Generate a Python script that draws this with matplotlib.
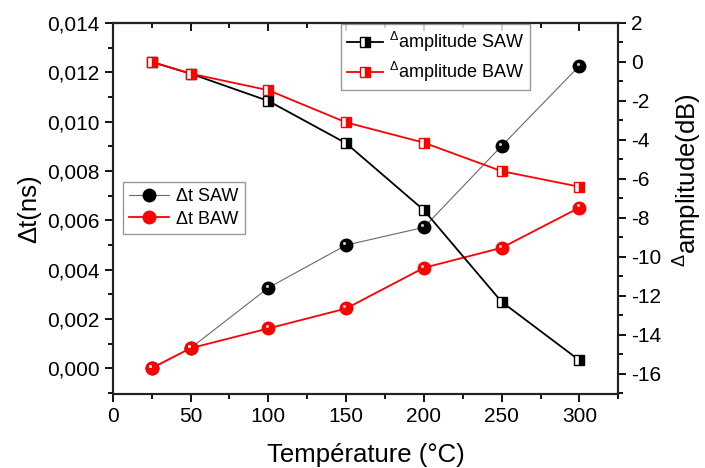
import matplotlib.pyplot as plt
import matplotlib.transforms as mtransforms
from matplotlib.ticker import MultipleLocator, FuncFormatter
from matplotlib.lines import Line2D

plt.rcParams['font.family'] = ['Liberation Sans', 'DejaVu Sans']
plt.rcParams['mathtext.fontset'] = 'custom'
plt.rcParams['mathtext.rm'] = 'Liberation Sans'

temperature = [25, 50, 100, 150, 200, 250, 300]
dt_saw = [0.0, 0.00081, 0.00326, 0.00499, 0.00571, 0.00901, 0.01226]
dt_baw = [0.0, 0.00081, 0.00161, 0.00242, 0.00407, 0.00488, 0.00651]
amp_saw = [0.0, -0.6, -2.0, -4.17, -7.6, -12.3, -15.3]
amp_baw = [0.0, -0.6, -1.45, -3.1, -4.14, -5.6, -6.4]


def sphere(ax, x, y, color, lw, lcolor):
    ax.plot(x, y, '-', color=lcolor, lw=lw, zorder=2)
    ax.plot(x, y, 'o', color=color, ms=9, mec=color, zorder=3)
    hl = mtransforms.offset_copy(ax.transData, fig=ax.figure, x=-1.3, y=1.6, units='points')
    ax.plot(x, y, 'o', color='white', ms=2.2, mec='none', alpha=0.8, transform=hl, zorder=4)


fig = plt.figure(figsize=(7.05, 4.68), dpi=100)
ax = fig.add_axes([0.160, 0.158, 0.717, 0.793])
ax2 = ax.twinx()

sphere(ax, temperature, dt_saw, 'black', 0.8, 'dimgray')
sphere(ax, temperature, dt_baw, 'red', 1.3, 'red')

ax2.plot(temperature, amp_saw, '-s', color='black', lw=1.3, ms=7, mec='black',
         mfc='black', mfcalt='white', fillstyle='right', mew=1)
ax2.plot(temperature, amp_baw, '-s', color='red', lw=1.3, ms=7, mec='red',
         mfc='red', mfcalt='white', fillstyle='right', mew=1)

ax.set_xlim(0, 325)
ax.set_ylim(-0.00105, 0.014)
ax2.set_ylim(-17.03, 2)

ax.xaxis.set_major_locator(MultipleLocator(50))
ax.xaxis.set_minor_locator(MultipleLocator(25))
ax.yaxis.set_major_locator(MultipleLocator(0.002))
ax.yaxis.set_minor_locator(MultipleLocator(0.001))
ax2.yaxis.set_major_locator(MultipleLocator(2))
ax2.yaxis.set_minor_locator(MultipleLocator(1))

ax.yaxis.set_major_formatter(FuncFormatter(lambda v, p: f'{abs(v):.3f}'.replace('.', ',') if abs(v) < 1e-9 else f'{v:.3f}'.replace('.', ',')))
ax2.yaxis.set_major_formatter(FuncFormatter(lambda v, p: f'{round(v):d}'))

for a in (ax, ax2):
    a.tick_params(which='major', length=6, width=1.3, labelsize=15, direction='out')
    a.tick_params(which='minor', length=3.5, width=1.3, direction='out')
    for s in a.spines.values():
        s.set_linewidth(1.5)
        s.set_color('#222222')

top = ax.secondary_xaxis('top')
top.xaxis.set_major_locator(MultipleLocator(50))
top.xaxis.set_minor_locator(MultipleLocator(25))
top.tick_params(which='major', direction='in', length=6, width=1.3, labeltop=False)
top.tick_params(which='minor', direction='in', length=3.5, width=1.3)
top.spines['top'].set_linewidth(1.5)

ax.set_xlabel('Température (°C)', fontsize=18.5, labelpad=12)
ax.set_ylabel('Δt(ns)', fontsize=18.5, labelpad=4)
ax2.set_ylabel(r'$^{\Delta}$amplitude(dB)', fontsize=18.5)
ax2.yaxis.set_label_coords(1.103, 0.577)

h1 = [Line2D([], [], color='dimgray', lw=0.8, marker='o', mfc='black', mec='black', ms=9),
      Line2D([], [], color='red', lw=1.3, marker='o', mfc='red', mec='red', ms=9)]
leg1 = ax.legend(h1, ['Δt SAW', 'Δt BAW'], loc='upper left', bbox_to_anchor=(0.02, 0.572),
                 fontsize=13, frameon=True, fancybox=False, edgecolor='gray',
                 borderaxespad=0, handlelength=2.2, handletextpad=0.4,
                 borderpad=0.35, labelspacing=0.3)
leg1.get_frame().set_linewidth(1)

h2 = [Line2D([], [], color='black', lw=1.3, marker='s', ms=7, mec='black', mfc='black',
             mfcalt='white', fillstyle='right'),
      Line2D([], [], color='red', lw=1.3, marker='s', ms=7, mec='red', mfc='red',
             mfcalt='white', fillstyle='right')]
leg2 = ax2.legend(h2, [r'$^{\Delta}$amplitude SAW', r'$^{\Delta}$amplitude BAW'],
                  loc='upper left', bbox_to_anchor=(0.451, 0.997),
                  fontsize=13, frameon=True, fancybox=False, edgecolor='gray',
                  borderaxespad=0, handlelength=2.0, handletextpad=0.3,
                  borderpad=0.35, labelspacing=0.3)
leg2.get_frame().set_linewidth(1)

fig.savefig('out.png', dpi=100)
